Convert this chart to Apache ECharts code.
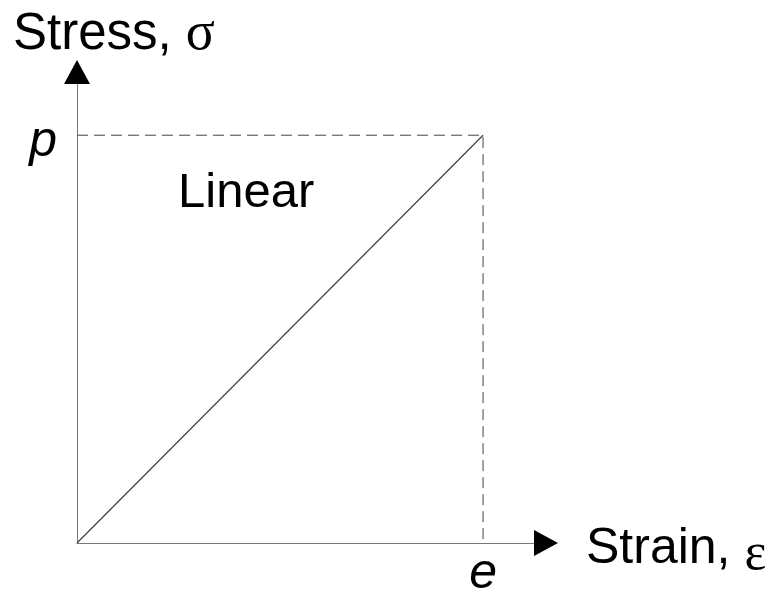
<!DOCTYPE html>
<html>
<head>
<meta charset="utf-8">
<script src="https://cdn.jsdelivr.net/npm/echarts@6/dist/echarts.min.js"></script>
<style>
  html, body { margin: 0; padding: 0; background: #fff; }
  #chart { width: 774px; height: 606px; }
</style>
</head>
<body>
<div id="chart"></div>
<script>
// strain / stress points of the linear segment (e, p normalised to 1)
const strainValues = [0, 1];
const stressValues = [0, 1];
const axisMax = 1.155;
const strainTick = 'e';
const stressTick = 'p';

const font = 'Liberation Sans, Arial, sans-serif';
const greek = 'Liberation Serif, Times New Roman, serif';

const chart = echarts.init(document.getElementById('chart'), null, { renderer: 'canvas' });

const lineData = strainValues.map((x, i) => [x, stressValues[i]]);
const peak = lineData[lineData.length - 1];
// dashed guides: from stress axis to peak, then down to strain axis
const guideData = [[0, peak[1]], peak, [peak[0], 0]];

const axisCommon = {
  type: 'value',
  min: 0,
  max: axisMax,
  interval: 1,
  splitLine: { show: false },
  axisTick: { show: false },
  axisLine: {
    show: true,
    onZero: false,
    lineStyle: { color: '#777', width: 1 }
  }
};

chart.setOption({
  animation: false,
  backgroundColor: '#fff',
  title: {
    text: 'Stress, {g|σ}',
    left: 8,
    top: 3,
    textStyle: {
      fontFamily: font,
      fontSize: 51,
      fontWeight: 'normal',
      color: '#000',
      rich: { g: { fontFamily: greek, fontSize: 54, color: '#000' } }
    }
  },
  grid: { left: 77, right: 228, top: 72, bottom: 63, containLabel: false },
  xAxis: Object.assign({}, axisCommon, {
    name: 'Strain, {g|ε}',
    nameLocation: 'end',
    nameGap: 40,
    nameTextStyle: {
      fontFamily: font,
      fontSize: 50,
      color: '#000',
      padding: [12, 0, 0, 0],
      rich: { g: { fontFamily: greek, fontSize: 52, color: '#000', padding: [12, 0, 0, 0] } }
    },
    axisLabel: {
      margin: 6,
      fontFamily: font,
      fontSize: 50,
      fontStyle: 'italic',
      color: '#000',
      formatter: (v) => (v === 1 ? strainTick : '')
    }
  }),
  yAxis: Object.assign({}, axisCommon, {
    axisLabel: {
      margin: 20,
      color: '#000',
      formatter: (v) => (v === 1 ? '{a|' + stressTick + '}' : ''),
      rich: {
        a: {
          fontFamily: font,
          fontSize: 50,
          fontStyle: 'italic',
          color: '#000',
          padding: [14, 0, 0, 0]
        }
      }
    }
  }),
  graphic: [{
    type: 'text',
    left: 178,
    top: 169,
    style: { text: 'Linear', fontFamily: font, fontSize: 49, fill: '#000' }
  }],
  series: [
    {
      type: 'line',
      data: guideData,
      symbol: 'none',
      lineStyle: { color: '#444', width: 1, type: [11, 6] },
      z: 1
    },
    {
      type: 'line',
      data: lineData,
      symbol: 'none',
      lineStyle: { color: '#404040', width: 1.2 },
      z: 2
    },
    {
      // arrow heads at the ends of both axes
      type: 'scatter',
      data: [
        { value: [axisMax, 0], symbolRotate: -90 },
        { value: [0, axisMax], symbolRotate: 0 }
      ],
      symbol: 'triangle',
      symbolSize: [26, 24],
      itemStyle: { color: '#000', opacity: 1 },
      clip: false,
      silent: true,
      z: 3
    }
  ]
});
</script>
</body>
</html>
